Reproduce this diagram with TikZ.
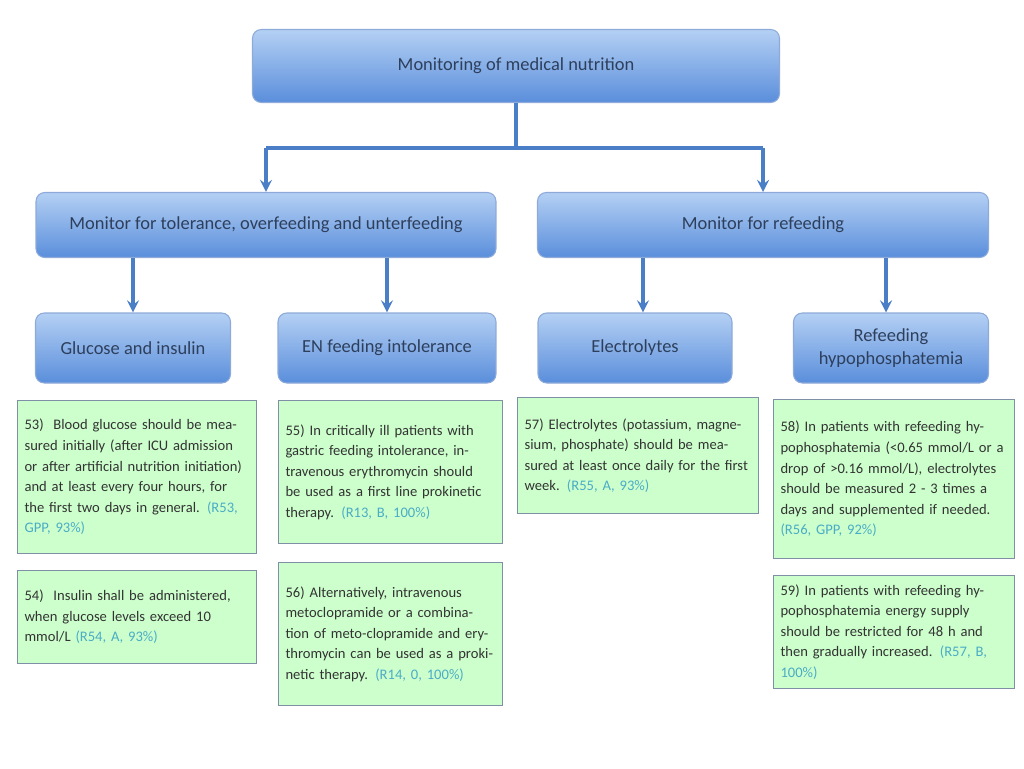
\documentclass[tikz,border=0pt]{standalone}
\usepackage{fontspec}
\setmainfont{Carlito}
\usetikzlibrary{positioning}
\definecolor{boxtop}{HTML}{B4D0F4}
\definecolor{boxbot}{HTML}{5A8EDB}
\definecolor{boxline}{HTML}{8EAAD8}
\definecolor{headtext}{HTML}{2E3F5C}
\definecolor{notefill}{HTML}{CCFFCC}
\definecolor{noteline}{HTML}{7F8FA6}
\definecolor{refc}{HTML}{4BACC6}
\definecolor{linkc}{HTML}{4A7EC7}
\providecommand\refnote[1]{\textcolor{refc}{#1}}

\begin{document}
\begin{tikzpicture}[%
        x = 0.02cm, y = -0.02cm,
        head/.style = {rounded corners = 5pt, draw = boxline, line width = 0.6pt,
            top color = boxtop, bottom color = boxbot, text = headtext,
            font = \fontsize{10.5}{13}\selectfont, align = center,
            inner sep = 0pt},
        note/.style = {draw = noteline, fill = notefill, line width = 0.6pt,
            text = black!80, font = \fontsize{8.3}{11.7}\selectfont,
            align = left, anchor = north west, inner xsep = 4pt, inner ysep = 3pt},
        link/.style = {draw = linkc, line width = 2pt},
        arr/.style = {link, -stealth},
        ]

\useasboundingbox (0,0) rectangle (1024,768);

% headers
\node (mon) [head, minimum width = 527*0.02cm, minimum height = 73*0.02cm] at (516,66)
    {Monitoring of medical nutrition};
\node (tol) [head, minimum width = 460*0.02cm, minimum height = 65*0.02cm] at (266,225)
    {Monitor for tolerance, overfeeding and unterfeeding};
\node (ref) [head, minimum width = 451*0.02cm, minimum height = 65*0.02cm] at (763,225)
    {Monitor for refeeding};

\foreach \NAME/\XPOS/\WID/\TXT in {glu/133/195/Glucose and insulin,
        enf/387/218/EN feeding intolerance,
        ele/635/194/Electrolytes,
        hyp/891/195/{Refeeding\\hypophosphatemia}}{%
    \node (\NAME) [head, minimum width = \WID*0.02cm, minimum height = 70*0.02cm]
        at (\XPOS,348) {\TXT};
    }

% connectors
\coordinate (split) at (516,148);
\draw[link] (mon) -- (split);
\draw[link] (split -| tol) -- (split -| ref);
\draw[arr] (split -| tol) -- (tol);
\draw[arr] (split -| ref) -- (ref);
\draw[arr] (tol.south -| glu) -- (glu);
\draw[arr] (tol.south -| enf) -- (enf);
\coordinate (e1) at (643,258);
\coordinate (e2) at (886,258);
\draw[arr] (e1) -- (e1 |- ele.north);
\draw[arr] (e2) -- (e2 |- hyp.north);

% recommendations
\node (r53) [note, text width = 225*0.02cm, minimum height = 153*0.02cm] at (17,400)
    {53)\ \ Blood glucose should be measured initially (after ICU admission or after artificial nutrition initiation) and at least every four hours, for the first two days in general. \refnote{(R53, GPP, 93\%)}};
\node (r54) [note, text width = 225*0.02cm, minimum height = 93*0.02cm] at (17,570)
    {54)\ \ Insulin shall be administered, when glucose levels exceed 10 mmol/L \refnote{(R54, A, 93\%)}};
\node (r55) [note, text width = 210*0.02cm, minimum height = 143*0.02cm] at (278,400)
    {55) In critically ill patients with gastric feeding intolerance, intravenous erythromycin should be used as a first line prokinetic therapy. \refnote{(R13, B, 100\%)}};
\node (r56) [note, text width = 210*0.02cm, minimum height = 143*0.02cm] at (278,562)
    {56) Alternatively, intravenous metoclopramide or a combination of meto-clopramide and erythromycin can be used as a prokinetic therapy. \refnote{(R14, 0, 100\%)}};
\node (r57) [note, text width = 227*0.02cm, minimum height = 116*0.02cm] at (517,397)
    {57) Electrolytes (potassium, magnesium, phosphate) should be measured at least once daily for the first week. \refnote{(R55, A, 93\%)}};
\node (r58) [note, text width = 227*0.02cm, minimum height = 159*0.02cm] at (773,399)
    {58) In patients with refeeding hypophosphatemia (<0.65 mmol/L or a drop of >0.16 mmol/L), electrolytes should be measured 2 - 3 times a days and supplemented if needed. \refnote{(R56, GPP, 92\%)}};
\node (r59) [note, text width = 227*0.02cm, minimum height = 113*0.02cm] at (773,575)
    {59) In patients with refeeding hypophosphatemia energy supply should be restricted for 48 h and then gradually increased. \refnote{(R57, B, 100\%)}};

\end{tikzpicture}
\end{document}
